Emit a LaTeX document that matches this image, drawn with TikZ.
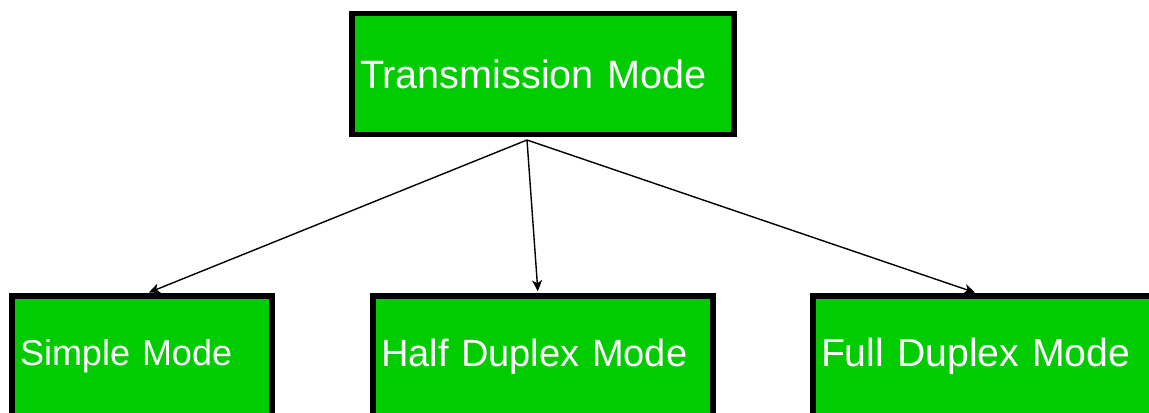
\documentclass[tikz,border=0pt]{standalone}
\usepackage{fontspec}
\setmainfont{Liberation Sans}
\usetikzlibrary{arrows.meta,calc}
\definecolor{modegreen}{HTML}{00CC00}

\begin{document}
\begin{tikzpicture}

	\newdimen\px
	\px=0.5pt % one pixel of the reference image, y grows downwards
	\tikzset{x=\px, y=-\px,
		modebox/.style={draw=black, line width=5.5\px, fill=modegreen, text=white,
			align=left, inner xsep=8\px, inner ysep=0pt, minimum height=121\px,
			font=\fontsize{19}{23}\selectfont},
		modearrow/.style={draw=black, line width=0.7pt, shorten >=1pt,
			-{Stealth[length=5.5pt, width=5pt, inset=1.5pt]}}} % tip sizes in pt: 11 x 10 pixels

	\useasboundingbox (0,0) rectangle (1149,412);

	% the boxes, positions are the centres of their borders
	\node[modebox, text width=366\px, font=\fontsize{19.8}{24}\selectfont] (transmission) at (543,74) {Transmission Mode};
	\node[modebox, text width=244\px, font=\fontsize{18}{22}\selectfont] (simple) at (142,356.5) {Simple Mode};
	\node[modebox, text width=324\px] (half) at (543,356.5) {Half Duplex Mode};
	\node[modebox, text width=328\px, font=\fontsize{19.6}{24}\selectfont] (full) at (985,356.5) {Full Duplex Mode};

	% all three arrows leave from one point just below the top box
	\coordinate (fork) at (527,140);

	\draw[modearrow] (fork) -- ($(simple.north)+(5,0)$);
	\draw[modearrow] (fork) -- ($(half.north)+(-5,0)$);
	\draw[modearrow] (fork) -- ($(full.north)+(-8,0)$);

\end{tikzpicture}
\end{document}
